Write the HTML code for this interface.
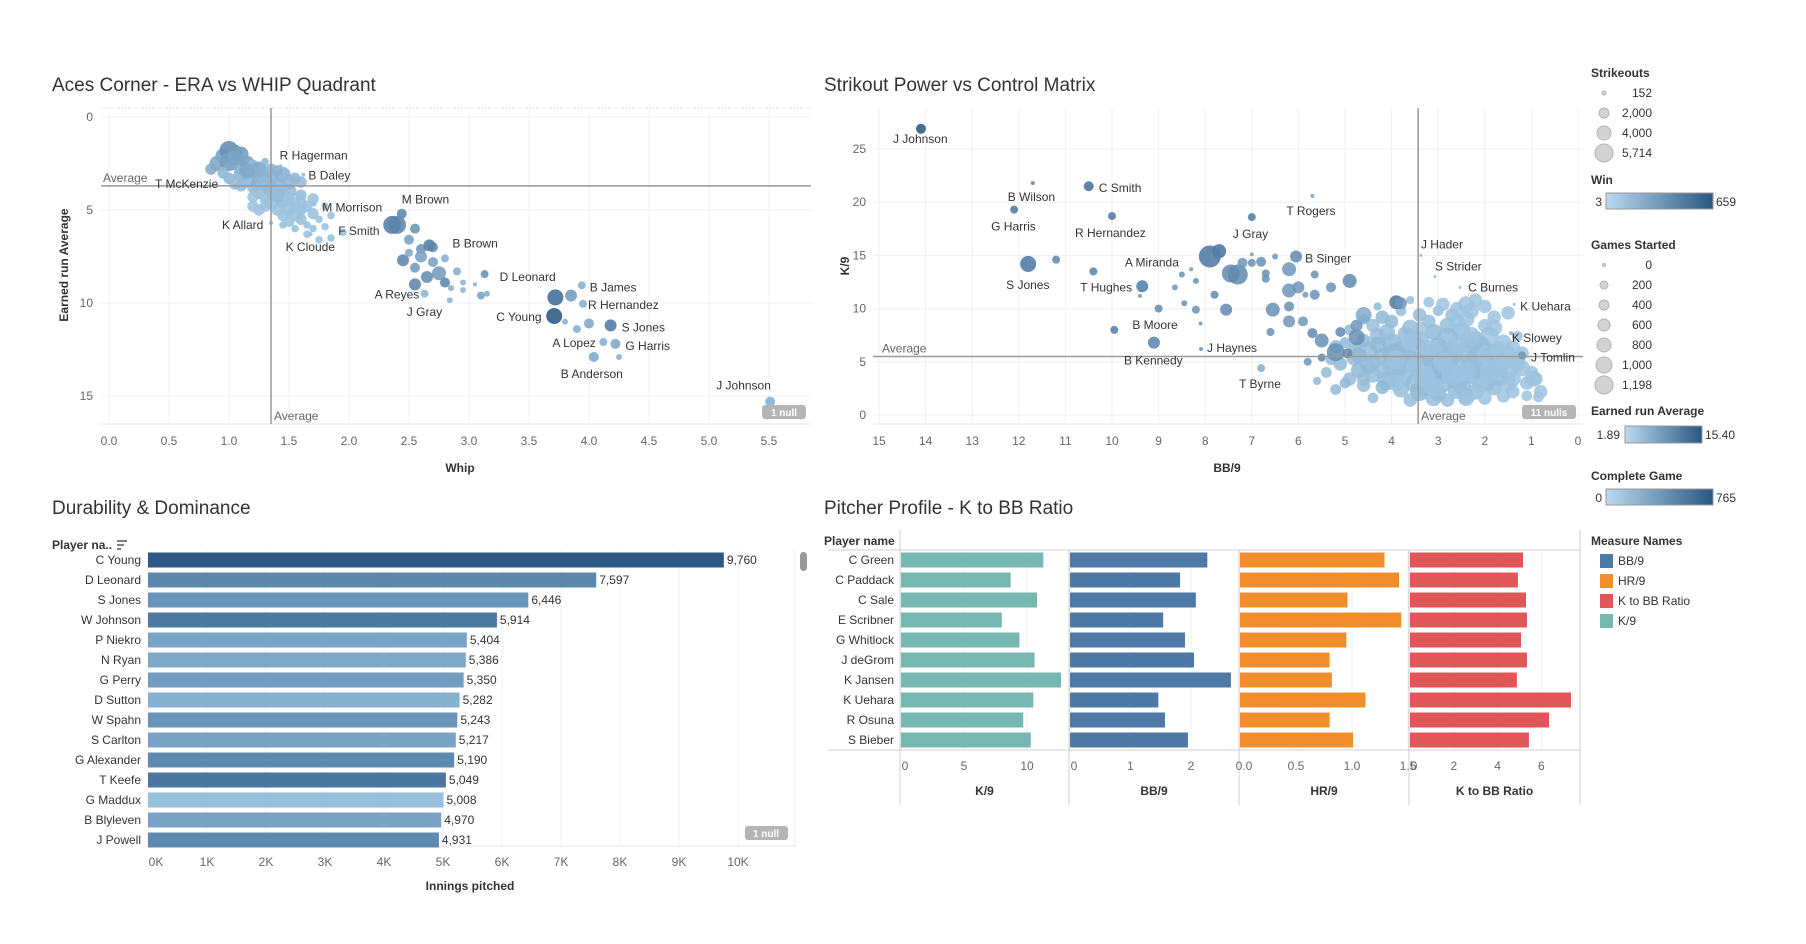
<!DOCTYPE html>
<html><head><meta charset="utf-8"><title>Pitching Dashboard</title>
<style>
html,body{margin:0;padding:0;background:#fff;}
svg{display:block;font-family:"Liberation Sans Narrow","Liberation Sans",sans-serif;}
.t{font-size:19px;fill:#333;}
.tk{font-size:12px;fill:#666;}
.lb{font-size:12px;fill:#333;}
.ax{font-size:12px;fill:#333;font-weight:bold;}
.lg{font-size:12px;fill:#333;}
</style></head>
<body>
<svg id="dash" width="1806" height="944" viewBox="0 0 1806 944" xmlns="http://www.w3.org/2000/svg">
<defs>
<linearGradient id="blueGrad" x1="0" x2="1" y1="0" y2="0"><stop offset="0" stop-color="#b9daf0"/><stop offset="1" stop-color="#2a5783"/></linearGradient>
</defs>
<text class="t" x="52" y="91">Aces Corner - ERA vs WHIP Quadrant</text>
<text class="t" x="824" y="91">Strikout Power vs Control Matrix</text>
<text class="t" x="52" y="514">Durability &amp; Dominance</text>
<text class="t" x="824" y="514">Pitcher Profile - K to BB Ratio</text>
<g id="c1"></g>
<g id="c2"></g>
<g id="c3"></g>
<g id="c4"></g>
<g id="legends">
<text class="ax" x="1591" y="77">Strikeouts</text>
<circle cx="1604" cy="93" r="2" fill="#d3d3d3" stroke="#b5b5b5"/>
<circle cx="1604" cy="113" r="5" fill="#d3d3d3" stroke="#b5b5b5"/>
<circle cx="1604" cy="133" r="7" fill="#d3d3d3" stroke="#b5b5b5"/>
<circle cx="1604" cy="153" r="9" fill="#d3d3d3" stroke="#b5b5b5"/>
<text class="lg" x="1652" y="97" text-anchor="end">152</text>
<text class="lg" x="1652" y="117" text-anchor="end">2,000</text>
<text class="lg" x="1652" y="137" text-anchor="end">4,000</text>
<text class="lg" x="1652" y="157" text-anchor="end">5,714</text>
<text class="ax" x="1591" y="184">Win</text>
<rect x="1606" y="193" width="107" height="16" fill="url(#blueGrad)" stroke="#999"/>
<text class="lg" x="1602" y="206" text-anchor="end">3</text>
<text class="lg" x="1716" y="206">659</text>
<text class="ax" x="1591" y="249">Games Started</text>
<g id="gsleg"></g>
<text class="ax" x="1591" y="415">Earned run Average</text>
<rect x="1625" y="426" width="77" height="17" fill="url(#blueGrad)" stroke="#999"/>
<text class="lg" x="1620" y="439" text-anchor="end">1.89</text>
<text class="lg" x="1705" y="439">15.40</text>
<text class="ax" x="1591" y="480">Complete Game</text>
<rect x="1606" y="489" width="107" height="16" fill="url(#blueGrad)" stroke="#999"/>
<text class="lg" x="1602" y="502" text-anchor="end">0</text>
<text class="lg" x="1716" y="502">765</text>
<line x1="1580" y1="530" x2="1580" y2="805" stroke="#ccc"/>
<text class="ax" x="1591" y="545">Measure Names</text>
<rect x="1600" y="554" width="13" height="14" fill="#4e79a7"/>
<rect x="1600" y="574" width="13" height="14" fill="#f28e2b"/>
<rect x="1600" y="594" width="13" height="14" fill="#e15759"/>
<rect x="1600" y="614" width="13" height="14" fill="#76b7b2"/>
<text class="lg" x="1618" y="565">BB/9</text>
<text class="lg" x="1618" y="585">HR/9</text>
<text class="lg" x="1618" y="605">K to BB Ratio</text>
<text class="lg" x="1618" y="625">K/9</text>
</g>
</svg>
<script>
// ---------- Chart 1 data ----------
var c1Names = ["J Johnson","B Anderson","A Lopez","G Harris","S Jones","C Young","R Hernandez","B James","D Leonard","A Reyes","J Gray","B Brown","M Brown","F Smith","M Morrison","B Daley","R Hagerman","K Allard","K Cloude","T McKenzie"];
var c1Whip = [5.51,4.04,4.12,4.22,4.18,3.71,3.95,3.94,3.13,2.63,2.84,2.67,2.44,2.36,1.71,1.62,1.43,1.35,1.68,1.2];
var c1Era = [15.3,12.9,12.1,12.2,11.2,10.7,10.05,9.05,8.45,9.5,9.85,6.9,5.2,5.8,4.7,3.1,2.65,5.7,6.3,3.6];
var c1Size = [5,5,4,5,6,8,4,4,4,4,3,6,5,9,2,2,2,2,2,3];
var c1Shade = [0.3,0.35,0.3,0.35,0.7,0.95,0.3,0.3,0.55,0.25,0.25,0.65,0.6,0.65,0.2,0.2,0.2,0.2,0.2,0.3];
var c1LabDx = [-54,-33,-51,10,11,-58,5,8,15,-50,-43,23,0,-54,8,5,-1,-49,-25,-98];
var c1LabDy = [-12,21,5,6,6,5,5,6,7,5,16,2,-10,10,7,5,-7,6,17,4];
var c1Mid = [
[2.4,5.8,9,.6],[2.5,6.6,5,.4],[2.55,6.0,5,.5],[2.6,7.1,5,.5],[2.45,7.7,6,.6],[2.55,8.1,5,.45],[2.6,7.5,6,.4],[2.7,7.8,5,.4],[2.75,8.4,7,.45],[2.65,8.6,6,.55],[2.8,8.9,5,.6],[2.9,8.3,4,.3],[2.95,8.9,3,.25],[2.85,9.2,3,.3],[2.8,7.6,4,.3],[2.55,9.0,6,.6],[2.95,9.3,3,.25],[3.05,9.0,2,.3],[3.1,9.6,4,.4],[3.15,9.5,3,.3],[3.85,9.6,6,.45],[3.8,11.0,3,.3],[3.9,11.4,4,.3],[4.0,11.1,5,.35],[4.25,12.9,3,.3],[3.72,9.7,8,.8],[2.7,7.0,5,.55],[2.5,7.3,4,.35]
];
var c1Cluster = [
[0.95,2.1,4,.5],[1.0,1.8,5,.7],[1.05,1.9,4,.6],[1.1,2.0,4,.55],[0.85,2.8,3,.4],[0.9,2.5,4,.45],[1.0,2.4,5,.55],[1.1,2.7,4,.4],[1.15,2.5,4,.5],[1.2,2.6,3,.3],[1.25,2.8,4,.45],[1.2,3.0,3,.35],[1.1,3.1,4,.3],[1.0,3.3,3,.3],[1.15,3.4,4,.3],[1.25,3.2,4,.4],[1.3,3.0,3,.35],[1.35,3.3,4,.35],[1.3,3.6,4,.3],[1.2,3.8,3,.25],[1.1,3.7,3,.25],[1.25,4.0,4,.25],[1.35,3.9,4,.3],[1.4,3.6,3,.3],[1.45,3.8,3,.25],[1.5,4.0,4,.25],[1.4,4.2,4,.25],[1.3,4.4,3,.2],[1.2,4.3,3,.2],[1.35,4.6,4,.2],[1.45,4.5,4,.25],[1.5,4.3,3,.2],[1.55,4.6,3,.2],[1.6,4.2,3,.25],[1.5,4.9,4,.2],[1.4,5.0,3,.2],[1.3,4.8,3,.2],[1.45,5.3,3,.2],[1.55,5.2,4,.2],[1.6,5.0,3,.2],[1.65,4.8,3,.2],[1.7,5.2,3,.2],[1.6,5.5,3,.2],[1.5,5.6,3,.2],[1.65,5.8,2,.2],[1.55,6.0,2,.2],[1.7,6.0,2,.2],[1.75,5.5,2,.2],[1.8,5.9,2,.2],[1.65,6.3,2,.2],[1.75,6.6,2,.2],[1.85,6.5,2,.2],[1.6,3.5,3,.25],[1.55,3.3,3,.3],[1.45,3.1,4,.35],[1.35,2.8,3,.3],[1.3,2.4,2,.3],[1.4,2.9,3,.35],[0.95,3.0,3,.3],[1.05,3.6,3,.25],[1.2,4.8,3,.2],[1.25,5.0,3,.2],[1.45,5.8,2,.2],[1.6,4.6,3,.2],[1.7,4.4,3,.2],[1.8,4.8,2,.2],[1.85,5.3,2,.2],[1.95,6.2,2,.2],[1.5,3.5,4,.3],[1.38,4.1,4,.25],[1.05,2.2,4,.5],[1.15,2.9,4,.45]
];
var c1XTicks = [0,0.5,1,1.5,2,2.5,3,3.5,4,4.5,5,5.5];
var c1YTicks = [0,5,10,15];
var c1AvgWhip = 1.35, c1AvgEra = 3.7;

// ---------- Chart 2 data ----------
var c2Names = ["J Johnson","B Wilson","C Smith","G Harris","R Hernandez","T Rogers","J Gray","A Miranda","B Singer","S Jones","T Hughes","B Moore","B Kennedy","J Haynes","J Hader","S Strider","C Burnes","K Uehara","K Slowey","J Tomlin","T Byrne"];
var c2BB = [14.1,11.7,10.5,12.1,10.0,5.7,7.0,7.9,6.05,11.8,9.35,9.95,9.1,8.09,3.37,3.07,2.53,1.37,1.44,1.2,6.8];
var c2K = [26.9,21.8,21.5,19.3,18.7,20.6,18.6,14.9,14.9,14.2,12.1,8.0,6.8,6.2,15.0,13.0,12.0,10.4,7.7,5.6,4.4];
var c2Size = [5,2,5,4,4,2,4,11,6,8,6,4,6,2,1.5,1.5,1.5,1.5,2,4,4];
var c2Shade = [0.95,0.6,0.75,0.7,0.7,0.4,0.65,0.7,0.55,0.7,0.65,0.65,0.6,0.5,0.2,0.2,0.2,0.2,0.25,0.5,0.3];
var c2LabDx = [-28,-25,10,-23,-37,-26,-19,-85,9,-22,-62,18,-30,6,0,0,8,6,1,9,-22];
var c2LabDy = [14,18,6,21,21,19,21,10,6,25,5,-1,22,3,-7,-6,4,6,9,6,20];
var c2Mid = [
[7.7,15.4,7,.8],[11.2,14.6,4,.65],[10.4,13.5,4,.65],[7.3,13.2,10,.6],[7.45,13.3,9,.6],[7.2,14.3,5,.5],[7.0,14.3,4,.55],[6.8,14.4,5,.55],[6.5,14.9,3,.5],[7.0,15.1,2,.4],[6.7,13.3,4,.55],[6.7,12.8,4,.55],[6.2,13.7,7,.5],[5.65,13.2,4,.55],[4.9,12.6,7,.6],[5.3,12.0,5,.55],[6.2,11.7,7,.5],[6.0,12.0,6,.5],[5.65,11.3,5,.55],[5.85,11.3,3,.5],[7.8,11.3,4,.6],[8.3,13.7,2,.5],[8.5,13.2,3,.55],[8.2,12.6,3,.55],[8.65,12.0,3,.5],[9.4,11.2,2,.5],[9.0,10.0,4,.6],[8.45,10.5,3,.55],[8.2,9.9,4,.55],[7.55,9.9,6,.6],[6.55,9.9,7,.55],[6.2,10.2,5,.55],[6.2,8.8,6,.5],[5.9,8.8,5,.5],[6.6,7.8,4,.55],[8.1,8.6,2,.5],[5.7,7.7,5,.6],[5.5,7.0,7,.55],[5.2,5.9,9,.55],[5.5,5.4,4,.65],[5.8,5.0,4,.5],[4.75,7.3,8,.55],[5.1,7.8,5,.6],[4.75,8.4,6,.5],[3.9,10.6,7,.75],[3.8,10.5,6,.5],[4.6,9.4,8,.35],[4.95,5.8,5,.6]
];
var c2Cluster = [
[4.5,6.0,7,.25],[4.2,5.5,6,.3],[4.0,4.8,7,.25],[3.8,6.2,6,.3],[3.6,5.0,8,.25],[3.4,4.2,7,.3],[3.2,5.6,8,.25],[3.0,6.4,7,.3],[2.8,5.2,8,.25],[2.6,4.6,7,.25],[2.4,6.0,8,.3],[2.2,5.4,7,.25],[2.0,4.8,8,.25],[1.8,5.8,7,.25],[1.6,5.0,6,.2],[1.5,4.2,7,.2],[1.7,3.6,7,.25],[2.0,3.2,8,.25],[2.3,3.8,7,.3],[2.6,3.4,8,.25],[2.9,3.0,7,.25],[3.2,3.4,8,.3],[3.5,3.0,7,.25],[3.8,3.6,8,.25],[4.1,3.2,7,.3],[4.4,3.8,6,.25],[4.7,4.2,6,.3],[4.9,3.4,5,.25],[5.1,4.8,5,.3],[4.8,5.4,6,.25],[4.6,7.0,5,.3],[4.3,7.4,6,.25],[4.0,6.8,7,.3],[3.7,7.6,6,.25],[3.4,7.0,7,.25],[3.1,7.8,6,.3],[2.8,7.2,8,.25],[2.5,7.8,7,.25],[2.2,7.0,7,.25],[1.9,7.4,7,.2],[1.6,6.8,6,.2],[1.4,6.2,6,.2],[1.3,5.2,6,.2],[1.2,4.4,6,.2],[1.4,3.4,6,.2],[1.8,2.6,6,.25],[2.2,2.2,6,.25],[2.6,2.4,7,.25],[3.0,2.0,6,.25],[3.4,2.2,7,.3],[3.8,2.4,6,.25],[4.2,2.6,5,.3],[4.6,2.8,5,.25],[5.0,3.0,4,.3],[4.4,8.4,5,.25],[4.0,8.8,5,.3],[3.6,8.2,6,.25],[3.2,8.8,5,.25],[2.8,8.4,6,.25],[2.4,9.0,6,.2],[2.0,8.4,5,.2],[1.8,9.2,5,.2],[2.3,9.8,6,.2],[2.7,9.4,5,.25],[3.0,9.8,4,.25],[3.4,9.4,5,.25],[3.8,9.8,4,.25],[4.2,9.2,5,.3],[4.6,9.0,4,.3],[4.9,8.0,4,.3],[5.2,6.4,5,.3],[5.3,5.2,4,.3],[5.4,4.0,4,.3],[5.6,3.2,3,.3],[5.2,2.4,4,.3],[4.4,1.6,4,.25],[3.6,1.4,5,.25],[2.8,1.4,5,.25],[2.0,1.6,5,.2],[1.4,2.2,5,.2],[1.1,3.0,5,.2],[1.0,4.0,5,.2],[0.9,3.4,5,.2],[0.8,2.2,5,.2],[1.1,1.8,4,.2],[2.4,10.4,6,.2],[3.2,10.6,4,.2],[2.0,10.2,5,.2],[2.2,10.8,5,.2],[4.3,10.2,3,.3],[3.6,10.8,3,.25],[4.5,4.6,6,.3],[3.9,4.4,8,.25],[3.3,4.8,8,.3],[2.7,5.8,8,.25],[2.1,6.4,8,.25],[1.7,4.4,7,.2],[3.0,3.8,8,.25],[3.7,5.6,8,.3],[4.3,6.6,6,.3],[2.5,2.8,7,.25],[3.3,2.6,7,.25],[1.9,3.8,7,.2],[2.9,4.4,8,.3],[2.3,4.4,8,.25],[3.5,6.4,8,.25],[4.0,5.8,7,.3],[1.5,5.8,6,.2],[0.97,3.4,6,.2],[0.85,1.7,4,.2],[1.3,7.4,4,.2],[1.5,9.6,5,.2],[2.6,10.0,5,.2],[4.7,5.6,6,.3],[5.0,6.8,4,.3],[3.1,1.6,6,.25],[2.4,1.8,6,.25],
[3.6,6.8,6,.2],[3.2,6.2,7,.2],[2.6,6.6,7,.2],[2.0,5.6,6,.2],[1.7,6.2,6,.2],[2.4,4.0,7,.2],[2.9,5.0,7,.2],[3.5,4.6,7,.2],[4.2,4.2,6,.25],[4.4,5.0,6,.25],[3.9,5.2,7,.2],[3.1,2.6,7,.2],[2.1,2.8,6,.2],[1.5,3.0,6,.2],[1.2,5.8,5,.2],[1.8,8.2,6,.2],[2.6,8.8,6,.2],[3.4,8.0,6,.2],[4.1,7.8,6,.25],[2.9,10.4,5,.2],[2.3,7.4,7,.2],[2.7,3.8,8,.2],[3.3,3.6,8,.2],[1.9,4.4,7,.2],[4.8,6.2,5,.3],[1.3,4.8,6,.2],[3.9,3.0,6,.2],[4.6,3.4,5,.25],[2.4,1.6,6,.2],[1.6,1.8,5,.2]
];
var c2XTicks = [15,14,13,12,11,10,9,8,7,6,5,4,3,2,1,0];
var c2YTicks = [0,5,10,15,20,25];
var c2AvgBB = 3.43, c2AvgK = 5.5;

// ---------- Chart 3 data ----------
var c3Names = ["C Young","D Leonard","S Jones","W Johnson","P Niekro","N Ryan","G Perry","D Sutton","W Spahn","S Carlton","G Alexander","T Keefe","G Maddux","B Blyleven","J Powell"];
var c3Innings = [9760,7597,6446,5914,5404,5386,5350,5282,5243,5217,5190,5049,5008,4970,4931];
var c3Shade = [1.0,0.6,0.5,0.72,0.35,0.33,0.42,0.25,0.5,0.37,0.58,0.75,0.12,0.37,0.58];
var c3Ticks = [0,1000,2000,3000,4000,5000,6000,7000,8000,9000,10000];
var c3TickLabels = ["0K","1K","2K","3K","4K","5K","6K","7K","8K","9K","10K"];

// ---------- Chart 4 data ----------
var c4Names = ["C Green","C Paddack","C Sale","E Scribner","G Whitlock","J deGrom","K Jansen","K Uehara","R Osuna","S Bieber"];
var c4K9 = [11.3,8.7,10.8,8.0,9.4,10.6,12.7,10.5,9.7,10.3];
var c4BB9 = [2.27,1.82,2.08,1.54,1.9,2.05,2.66,1.46,1.57,1.95];
var c4HR9 = [1.29,1.42,0.96,1.44,0.95,0.8,0.82,1.12,0.8,1.01];
var c4KBB = [5.16,4.93,5.3,5.34,5.07,5.34,4.88,7.35,6.35,5.43];
var c4K9Ticks = [0,5,10];
var c4BB9Ticks = [0,1,2];
var c4HR9Ticks = [0,0.5,1,1.5];
var c4HR9Labels = ["0.0","0.5","1.0","1.5"];
var c4KBBTicks = [0,2,4,6];

var gsValues = ["0","200","400","600","800","1,000","1,198"];

// ---------- helpers ----------
var NS = "http://www.w3.org/2000/svg";
function mk(parent, tag, attrs, txt){
  var e = document.createElementNS(NS, tag);
  for (var k in attrs) e.setAttribute(k, attrs[k]);
  if (txt !== undefined) e.textContent = txt;
  parent.appendChild(e);
  return e;
}
function lerp(a,b,t){return Math.round(a+(b-a)*t);}
function shadeColor(s){
  var c0=[178,215,240], c1=[42,87,131];
  return "rgb("+lerp(c0[0],c1[0],s)+","+lerp(c0[1],c1[1],s)+","+lerp(c0[2],c1[2],s)+")";
}
function barColor(s){
  var c0=[166,206,232], c1=[44,88,134];
  return "rgb("+lerp(c0[0],c1[0],s)+","+lerp(c0[1],c1[1],s)+","+lerp(c0[2],c1[2],s)+")";
}

// ---------- Chart 1 ----------
(function(){
  var g = document.getElementById("c1");
  var X = function(w){return 109+120*w;};
  var Y = function(e){return 117+18.6*e;};
  var L=101, R=811, T=108, B=424;
  var el;
  c1XTicks.forEach(function(t){
    el = mk(g,"line",{x1:X(t),x2:X(t),y1:T,y2:B,stroke:"#f0f0f0"});
    
    
    el = mk(g,"text",{x:X(t),y:445,"text-anchor":"middle","class":"tk"},t.toFixed(1));
    
    
  });
  c1YTicks.forEach(function(t){
    el = mk(g,"line",{x1:L,x2:R,y1:Y(t),y2:Y(t),stroke:"#f0f0f0"});
    
    
    el = mk(g,"text",{x:93,y:Y(t)+4,"text-anchor":"end","class":"tk"},String(t));
    
    
  });
  el = mk(g,"line",{x1:L,x2:R,y1:T,y2:T,stroke:"#ccc","stroke-dasharray":"1,2"});
  
  
  el = mk(g,"line",{x1:L,x2:R,y1:B,y2:B,stroke:"#e6e6e6"});
  
  
  c1Cluster.forEach(function(p){
    el = mk(g,"circle",{cx:X(p[0]),cy:Y(p[1]),r:p[2]*1.9,fill:shadeColor(p[3]*0.8),"fill-opacity":0.9});
    
    
  });
  c1Mid.forEach(function(p){
    el = mk(g,"circle",{cx:X(p[0]),cy:Y(p[1]),r:p[2],fill:shadeColor(p[3]),"fill-opacity":0.9});
    
    
  });
  c1Names.forEach(function(n,i){
    var cx=X(c1Whip[i]), cy=Y(c1Era[i]);
    el = mk(g,"circle",{cx:cx,cy:cy,r:c1Size[i],fill:shadeColor(c1Shade[i]),"fill-opacity":0.9});
    
    
  });
  el = mk(g,"line",{x1:X(c1AvgWhip),x2:X(c1AvgWhip),y1:T,y2:B,stroke:"#999","stroke-width":1.5});
  
  
  el = mk(g,"line",{x1:L,x2:R,y1:Y(c1AvgEra),y2:Y(c1AvgEra),stroke:"#999","stroke-width":1.5});
  
  
  c1Names.forEach(function(n,i){
    var cx=X(c1Whip[i]), cy=Y(c1Era[i]);
    el = mk(g,"text",{x:cx+c1LabDx[i],y:cy+c1LabDy[i],"class":"lb"},n);
    
    
  });
  el = mk(g,"text",{x:103,y:Y(c1AvgEra)-4,"class":"tk",fill:"#777"},"Average");
  
  
  el = mk(g,"text",{x:X(c1AvgWhip)+3,y:420,"class":"tk"},"Average");
  
  
  el = mk(g,"rect",{x:762,y:405,width:44,height:14,rx:3,fill:"#b5b5b5"});
  
  
  el = mk(g,"text",{x:784,y:416,"text-anchor":"middle","font-size":"10","font-weight":"bold",fill:"#fff"},"1 null");
  
  
  el = mk(g,"text",{x:460,y:472,"text-anchor":"middle","class":"ax"},"Whip");
  
  
  el = mk(g,"text",{x:0,y:0,"text-anchor":"middle","class":"ax",transform:"translate(68,265) rotate(-90)"},"Earned run Average");
  
  
})();

// ---------- Chart 2 ----------
(function(){
  var g = document.getElementById("c2");
  var X = function(b){return 1578-46.6*b;};
  var Y = function(k){return 415-10.64*k;};
  var L=873, R=1583, T=108, B=424;
  var el;
  c2XTicks.forEach(function(t){
    el = mk(g,"line",{x1:X(t),x2:X(t),y1:T,y2:B,stroke:"#f0f0f0"});
    
    
    el = mk(g,"text",{x:X(t),y:445,"text-anchor":"middle","class":"tk"},String(t));
    
    
  });
  c2YTicks.forEach(function(t){
    el = mk(g,"line",{x1:L,x2:R,y1:Y(t),y2:Y(t),stroke:"#f0f0f0"});
    
    
    el = mk(g,"text",{x:866,y:Y(t)+4,"text-anchor":"end","class":"tk"},String(t));
    
    
  });
  el = mk(g,"line",{x1:L,x2:R,y1:B,y2:B,stroke:"#e6e6e6"});
  
  
  c2Cluster.forEach(function(p){
    el = mk(g,"circle",{cx:X(p[0]),cy:Y(p[1]),r:p[2]*1.35,fill:shadeColor(p[3]*0.8),"fill-opacity":0.85});
    
    
  });
  c2Mid.forEach(function(p){
    el = mk(g,"circle",{cx:X(p[0]),cy:Y(p[1]),r:p[2],fill:shadeColor(p[3]),"fill-opacity":0.85});
    
    
  });
  c2Names.forEach(function(n,i){
    el = mk(g,"circle",{cx:X(c2BB[i]),cy:Y(c2K[i]),r:c2Size[i],fill:shadeColor(c2Shade[i]),"fill-opacity":0.9});
    
    
  });
  el = mk(g,"line",{x1:X(c2AvgBB),x2:X(c2AvgBB),y1:T,y2:B,stroke:"#999","stroke-width":1.5});
  
  
  el = mk(g,"line",{x1:L,x2:R,y1:Y(c2AvgK),y2:Y(c2AvgK),stroke:"#999","stroke-width":1.5});
  
  
  c2Names.forEach(function(n,i){
    el = mk(g,"text",{x:X(c2BB[i])+c2LabDx[i],y:Y(c2K[i])+c2LabDy[i],"class":"lb"},n);
    
    
  });
  el = mk(g,"text",{x:882,y:Y(c2AvgK)-4,"class":"tk",fill:"#777"},"Average");
  
  
  el = mk(g,"text",{x:X(c2AvgBB)+3,y:420,"class":"tk"},"Average");
  
  
  el = mk(g,"rect",{x:1522,y:405,width:54,height:14,rx:3,fill:"#b5b5b5"});
  
  
  el = mk(g,"text",{x:1549,y:416,"text-anchor":"middle","font-size":"10","font-weight":"bold",fill:"#fff"},"11 nulls");
  
  
  el = mk(g,"text",{x:1227,y:472,"text-anchor":"middle","class":"ax"},"BB/9");
  
  
  el = mk(g,"text",{x:0,y:0,"text-anchor":"middle","class":"ax",transform:"translate(849,266) rotate(-90)"},"K/9");
  
  
})();

// ---------- Chart 3 ----------
(function(){
  var g = document.getElementById("c3");
  var X = function(v){return 148+0.059*v;};
  var el;
  el = mk(g,"text",{x:52,y:549,"class":"ax"},"Player na..");
  
  
  el = mk(g,"path",{d:"M117 541h10M117 545h7M117 549h4",stroke:"#555","stroke-width":1.5});
  
  
  c3Ticks.forEach(function(t,i){
    el = mk(g,"line",{x1:X(t),x2:X(t),y1:550,y2:846,stroke:"#f0f0f0"});
    
    
    el = mk(g,"text",{x:X(t)+(i===0?8:0),y:866,"text-anchor":"middle","class":"tk"},c3TickLabels[i]);
    
    
  });
  el = mk(g,"line",{x1:146,x2:795,y1:846,y2:846,stroke:"#e6e6e6"});
  
  
  el = mk(g,"line",{x1:795,x2:795,y1:550,y2:846,stroke:"#eee"});
  
  
  c3Names.forEach(function(n,i){
    var cy = 560+20*i;
    el = mk(g,"rect",{x:X(0),y:cy-7.5,width:X(c3Innings[i])-X(0),height:15,fill:barColor(c3Shade[i])});
    
    
    el = mk(g,"text",{x:141,y:cy+4,"text-anchor":"end","class":"lb",fill:"#555"},n);
    
    
    el = mk(g,"text",{x:X(c3Innings[i])+3,y:cy+4,"class":"lb"},c3Innings[i].toLocaleString("en-US"));
    
    
  });
  el = mk(g,"rect",{x:800,y:552,width:7,height:19,rx:3.5,fill:"#999"});
  
  
  el = mk(g,"rect",{x:745,y:826,width:43,height:14,rx:3,fill:"#b5b5b5"});
  
  
  el = mk(g,"text",{x:766,y:837,"text-anchor":"middle","font-size":"10","font-weight":"bold",fill:"#fff"},"1 null");
  
  
  el = mk(g,"text",{x:470,y:890,"text-anchor":"middle","class":"ax"},"Innings pitched");
  
  
})();

// ---------- Chart 4 ----------
(function(){
  var g = document.getElementById("c4");
  var el;
  el = mk(g,"text",{x:824,y:545,"class":"ax"},"Player name");
  
  
  var panels = [
    {name:"K/9", vals:c4K9, ticks:c4K9Ticks, labels:null, x0:901, scale:12.6, left:900, right:1069, color:"#76b7b2", key:"k9"},
    {name:"BB/9", vals:c4BB9, ticks:c4BB9Ticks, labels:null, x0:1070, scale:60.5, left:1069, right:1239, color:"#4e79a7", key:"bb9"},
    {name:"HR/9", vals:c4HR9, ticks:c4HR9Ticks, labels:c4HR9Labels, x0:1240, scale:112, left:1239, right:1409, color:"#f28e2b", key:"hr9"},
    {name:"K to BB Ratio", vals:c4KBB, ticks:c4KBBTicks, labels:null, x0:1410, scale:21.9, left:1409, right:1580, color:"#e15759", key:"kbb"}
  ];
  panels.forEach(function(p){
    p.ticks.forEach(function(t,i){
      var x = p.x0+p.scale*t;
      el = mk(g,"line",{x1:x,x2:x,y1:551,y2:750,stroke:"#f0f0f0"});
      
      
      el = mk(g,"text",{x:x+(t===0?4:0),y:770,"text-anchor":"middle","class":"tk"},p.labels?p.labels[i]:String(t));
      
      
    });
    p.vals.forEach(function(v,i){
      var cy = 560+20*i;
      el = mk(g,"rect",{x:p.x0,y:cy-7.5,width:p.scale*v,height:15,fill:p.color});
      
      
    });
    el = mk(g,"text",{x:(p.left+p.right)/2,y:795,"text-anchor":"middle","class":"ax"},p.name);
    
    
    el = mk(g,"line",{x1:p.right,x2:p.right,y1:550,y2:805,stroke:"#d0d0d0"});
    
    
  });
  el = mk(g,"line",{x1:900,x2:900,y1:530,y2:805,stroke:"#d0d0d0"});
  
  
  el = mk(g,"line",{x1:828,x2:1580,y1:550,y2:550,stroke:"#d0d0d0"});
  
  
  el = mk(g,"line",{x1:828,x2:1580,y1:750,y2:750,stroke:"#d0d0d0"});
  
  
  c4Names.forEach(function(n,i){
    el = mk(g,"text",{x:894,y:560+20*i+4,"text-anchor":"end","class":"lb",fill:"#555"},n);
    
    
  });
})();

// ---------- Games started legend ----------
(function(){
  var g = document.getElementById("gsleg");
  var radii = [1.5,4,5,6,7,8,9];
  var el;
  gsValues.forEach(function(v,i){
    var cy = 265+20*i;
    el = mk(g,"circle",{cx:1604,cy:cy,r:radii[i],fill:"#d3d3d3",stroke:"#b5b5b5"});
    
    
    el = mk(g,"text",{x:1652,y:cy+4,"text-anchor":"end","class":"lg"},v);
    
    
  });
})();
</script>
</body></html>
